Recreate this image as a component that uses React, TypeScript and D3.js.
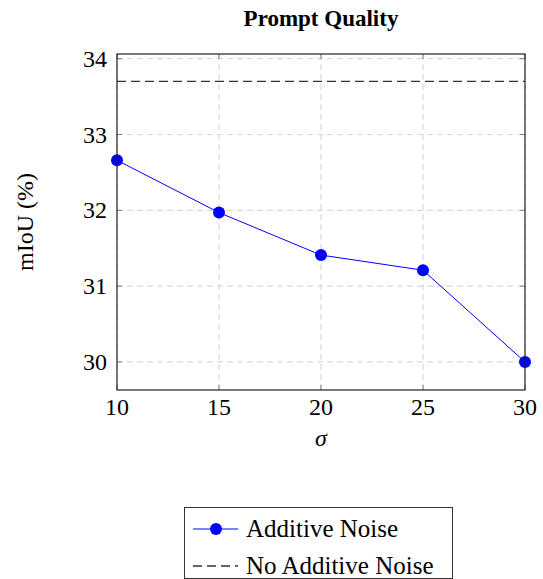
import React from "react";
import * as d3 from "d3";

const sigmas = [10, 15, 20, 25, 30];
const miou = [32.66, 31.97, 31.41, 31.21, 30.0];
const baseline = 33.7;
const xTicks = [10, 15, 20, 25, 30];
const yTicks = [30, 31, 32, 33, 34];

const W = 543;
const H = 579;
const left = 117;
const right = 525;
const top = 54;
const bottom = 390;
const serif = '"Liberation Serif", Tinos, "DejaVu Serif", serif';

export default function App() {
  const x = d3.scaleLinear().domain([10, 30]).range([left, right]);
  const y = d3.scaleLinear().domain([29.63, 34.062]).range([bottom, top]);

  const line = d3
    .line<number>()
    .x((d, i) => x(sigmas[i]))
    .y((d) => y(d));

  return (
    <svg
      width={W}
      height={H}
      style={{ position: "absolute", left: 0, top: 0, background: "white", fontFamily: serif }}
    >
      {/* title */}
      <text x={321} y={26} textAnchor="middle" fontSize={23} fontWeight="bold">
        Prompt Quality
      </text>

      {/* grid */}
      {xTicks.map((t) => (
        <line
          key={"gx" + t}
          x1={x(t)}
          x2={x(t)}
          y1={top}
          y2={bottom}
          stroke="#d9d9d9"
          strokeWidth={1.2}
          strokeDasharray="6 4"
        />
      ))}
      {yTicks.map((t) => (
        <line
          key={"gy" + t}
          x1={left}
          x2={right}
          y1={y(t)}
          y2={y(t)}
          stroke="#d9d9d9"
          strokeWidth={1.2}
          strokeDasharray="6 4"
        />
      ))}

      {/* tick marks inside */}
      {xTicks.map((t) => (
        <g key={"tx" + t} stroke="#808080" strokeWidth={1}>
          <line x1={x(t)} x2={x(t)} y1={bottom} y2={bottom - 5} />
          <line x1={x(t)} x2={x(t)} y1={top} y2={top + 5} />
        </g>
      ))}
      {yTicks.map((t) => (
        <g key={"ty" + t} stroke="#808080" strokeWidth={1}>
          <line x1={left} x2={left + 5} y1={y(t)} y2={y(t)} />
          <line x1={right} x2={right - 5} y1={y(t)} y2={y(t)} />
        </g>
      ))}

      {/* baseline */}
      <line
        x1={left}
        x2={right}
        y1={y(baseline)}
        y2={y(baseline)}
        stroke="#333"
        strokeWidth={1.3}
        strokeDasharray="9 5"
      />

      {/* series */}
      <path d={line(miou) ?? ""} fill="none" stroke="blue" strokeWidth={1} />
      {miou.map((v, i) => (
        <circle key={i} cx={x(sigmas[i])} cy={y(v)} r={6} fill="blue" />
      ))}

      {/* frame */}
      <rect
        x={left}
        y={top}
        width={right - left}
        height={bottom - top}
        fill="none"
        stroke="#222"
        strokeWidth={1.2}
      />

      {/* tick labels */}
      {xTicks.map((t) => (
        <text key={"lx" + t} x={x(t)} y={415} textAnchor="middle" fontSize={24}>
          {t}
        </text>
      ))}
      {yTicks.map((t) => (
        <text
          key={"ly" + t}
          x={107}
          y={y(t) + 8}
          textAnchor="end"
          fontSize={24}
        >
          {t}
        </text>
      ))}

      {/* axis labels */}
      <text x={321} y={446} textAnchor="middle" fontSize={24} fontStyle="italic">
        σ
      </text>
      <text
        transform={`translate(33, ${(top + bottom) / 2}) rotate(-90)`}
        textAnchor="middle"
        fontSize={24}
      >
        mIoU (%)
      </text>

      {/* legend */}
      <rect x={184.5} y={507.5} width={268} height={71} fill="white" stroke="#333" strokeWidth={1} />
      <line x1={193} x2={238} y1={529} y2={529} stroke="blue" strokeWidth={1} />
      <circle cx={216} cy={529} r={6} fill="blue" />
      <text x={246} y={537} fontSize={25}>
        Additive Noise
      </text>
      <line
        x1={193}
        x2={238}
        y1={566}
        y2={566}
        stroke="#333"
        strokeWidth={1.3}
        strokeDasharray="9 5"
      />
      <text x={246} y={574} fontSize={25}>
        No Additive Noise
      </text>
    </svg>
  );
}
